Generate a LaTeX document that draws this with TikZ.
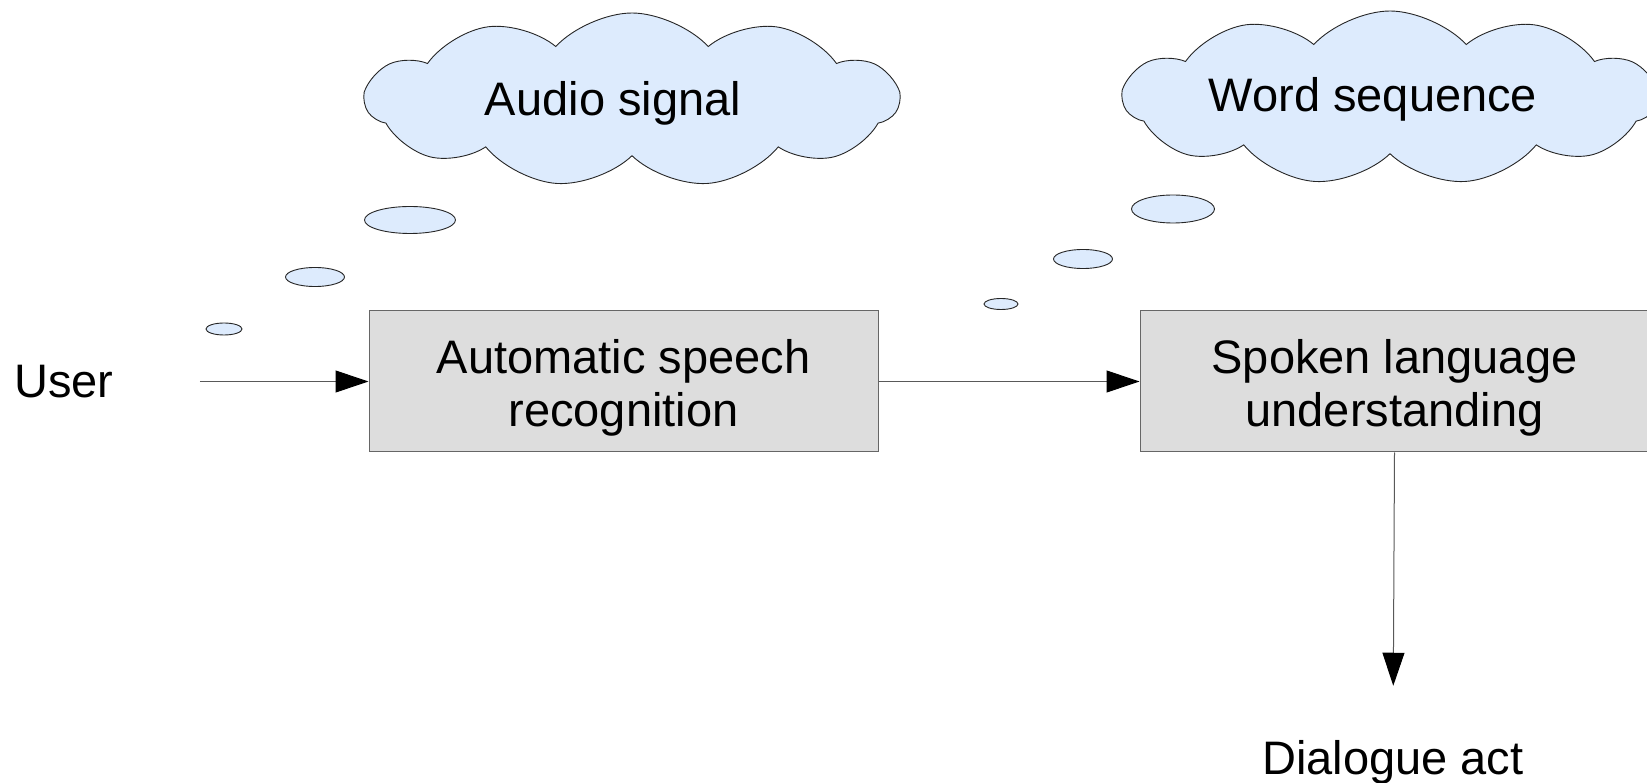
\documentclass[tikz,border=0pt]{standalone}
\usepackage{fontspec}
\setmainfont{Liberation Sans}
\usetikzlibrary{arrows.meta,shapes.symbols,shapes.geometric}
\definecolor{cloudblue}{RGB}{221,235,253}
\definecolor{boxgray}{RGB}{221,221,221}

\tikzset{
    thought/.style={cloud, cloud puffs=11, cloud puff arc=95, aspect=3, draw=black!85, fill=cloudblue, line width=0.9pt, minimum width=533pt, minimum height=174pt, inner sep=0pt},
    bubble/.style={ellipse, draw=black!85, fill=cloudblue, line width=0.9pt, inner sep=0pt},
    procbox/.style={rectangle, draw=black!60, fill=boxgray, line width=1pt, minimum width=509pt, minimum height=141pt, text height=99.5pt, align=center, inner sep=0pt},
    flow/.style={-{Triangle[length=33pt,width=22pt,black]}, line width=1pt, draw=black!65},
    label/.style={inner sep=0pt, anchor=base}
}

\begin{document}
\begin{tikzpicture}[x=1pt, y=-1pt, font=\fontsize{47}{52.5}\selectfont]
    \useasboundingbox (0,0) rectangle (1647,783);
    \clip (0,0) rectangle (1647,783);

    \node[thought] (audio) at (632,100) {};
    \node[label] (audiotext) at ([shift={(-19,15.5)}]audio.center) {Audio signal};
    \node[thought] (words) at (1390,98) {};
    \node[label] (wordstext) at ([shift={(-17,14)}]words.center) {Word sequence};

    \node[bubble, minimum width=91pt, minimum height=27pt] (ab1) at (410,220) {};
    \node[bubble, minimum width=59pt, minimum height=19pt] (ab2) at (315,277) {};
    \node[bubble, minimum width=36pt, minimum height=12pt] (ab3) at (224,329) {};
    \node[bubble, minimum width=83pt, minimum height=28pt] (wb1) at (1173,209) {};
    \node[bubble, minimum width=59pt, minimum height=19pt] (wb2) at (1083,259) {};
    \node[bubble, minimum width=34pt, minimum height=11pt] (wb3) at (1001,304) {};

    \node[label] (user) at (64,398) {User};
    \node[procbox] (asr) at (623.5,381.5) {Automatic speech\\recognition};
    \node[procbox] (slu) at (1394.5,381.5) {Spoken language\\understanding};
    \node[label] (act) at (1393,774) {Dialogue act};

    \draw[flow, shorten <=86pt] (user.east |- asr.west) -- (asr.west);
    \draw[flow] (asr.east) -- (slu.west);
    \draw[flow, shorten >=54pt] (slu.south) -- (act.north);
\end{tikzpicture}
\end{document}
